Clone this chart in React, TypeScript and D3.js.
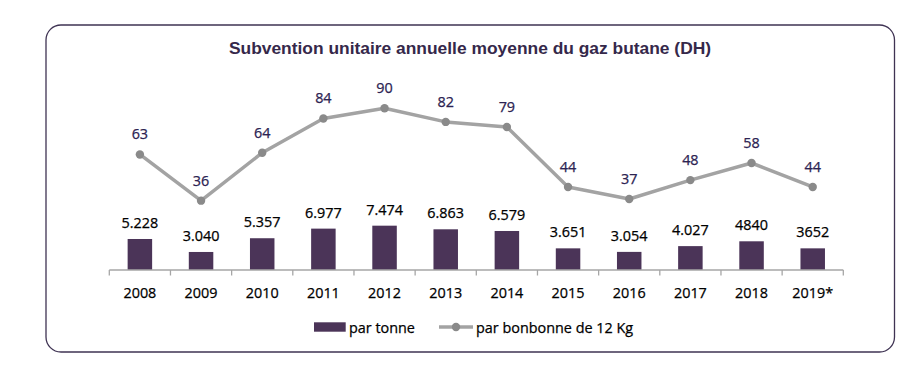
import React from "react";
import * as d3 from "d3";

const years = ["2008","2009","2010","2011","2012","2013","2014","2015","2016","2017","2018","2019*"];
const perTonne = [5228, 3040, 5357, 6977, 7474, 6863, 6579, 3651, 3054, 4027, 4840, 3652];
const perTonneLabels = ["5.228","3.040","5.357","6.977","7.474","6.863","6.579","3.651","3.054","4.027","4840","3652"];
const perBottle = [63, 36, 64, 84, 90, 82, 79, 44, 37, 48, 58, 44];
const seriesNames = ["par tonne", "par bonbonne de 12 Kg"];
const title = "Subvention unitaire annuelle moyenne du gaz butane (DH)";

const W = 916, H = 367;
const BAR = "#4b3458";
const LINE = "#a3a3a3";
const DOT = "#8a8a8a";
const FONT = "'Open Sans', sans-serif";

export default function App() {
  const x = d3.scaleBand<string>().domain(years).range([109.3, 843.3]).paddingInner(0).paddingOuter(0);
  const yBar = d3.scaleLinear().domain([0, 10000]).range([270, 210.7]);
  const yLine = d3.scaleLinear().domain([0, 100]).range([262.3, 91.1]);
  const bw = 24.5;
  const line = d3.line<number>().x((_, i) => (x(years[i]) as number) + x.bandwidth() / 2).y(d => yLine(d));
  const ticks = [...years.map(y => x(y) as number), 843.3];

  return (
    <svg width={W} height={H} style={{ position: "absolute", left: 0, top: 0, background: "#fff" }}>
      <rect x={46} y={25} width={848.5} height={327} rx={15} ry={15} fill="#fff" stroke="#3f3353" strokeWidth={1.3} />
      <text x={470} y={54} textAnchor="middle" fontFamily="'Liberation Sans', Arial, sans-serif" fontWeight="bold" fontSize={17.4} fill="#35284a">{title}</text>

      {perTonne.map((v, i) => {
        const cx = (x(years[i]) as number) + x.bandwidth() / 2;
        return (
          <g key={years[i]}>
            <rect x={cx - bw / 2} y={yBar(v)} width={bw} height={yBar(0) - yBar(v)} fill={BAR} />
            <text x={cx} y={yBar(v) - 11} textAnchor="middle" fontFamily={FONT} fontSize={14.4} fill="#000" stroke="#000" strokeWidth={0.25}>{perTonneLabels[i]}</text>
            <text x={cx} y={298} textAnchor="middle" fontFamily={FONT} fontSize={14.4} fill="#000" stroke="#000" strokeWidth={0.25}>{years[i]}</text>
          </g>
        );
      })}

      <line x1={109.3} x2={843.3} y1={270} y2={270} stroke="#a6a6a6" strokeWidth={1.3} />
      {ticks.map((t, i) => (
        <line key={i} x1={t} x2={t} y1={270} y2={275.5} stroke="#a6a6a6" strokeWidth={1.3} />
      ))}

      <path d={line(perBottle) as string} fill="none" stroke={LINE} strokeWidth={3.5} strokeLinejoin="round" />
      {perBottle.map((v, i) => {
        const cx = (x(years[i]) as number) + x.bandwidth() / 2;
        return (
          <g key={"p" + i}>
            <circle cx={cx} cy={yLine(v)} r={4.2} fill={DOT} />
            <text x={cx} y={yLine(v) - 15} textAnchor="middle" fontFamily={FONT} fontSize={14.4} fill="#2c2352" stroke="#2c2352" strokeWidth={0.25}>{v}</text>
          </g>
        );
      })}

      <rect x={314} y={322.3} width={31.7} height={9.4} fill={BAR} />
      <text x={349} y={332.5} fontFamily={FONT} fontSize={14.4} fill="#000" stroke="#000" strokeWidth={0.25}>{seriesNames[0]}</text>
      <line x1={439} x2={473} y1={327} y2={327} stroke={LINE} strokeWidth={3.5} />
      <circle cx={456} cy={327} r={4.2} fill={DOT} />
      <text x={476} y={332.5} fontFamily={FONT} fontSize={14.4} fill="#000" stroke="#000" strokeWidth={0.25}>{seriesNames[1]}</text>
    </svg>
  );
}
